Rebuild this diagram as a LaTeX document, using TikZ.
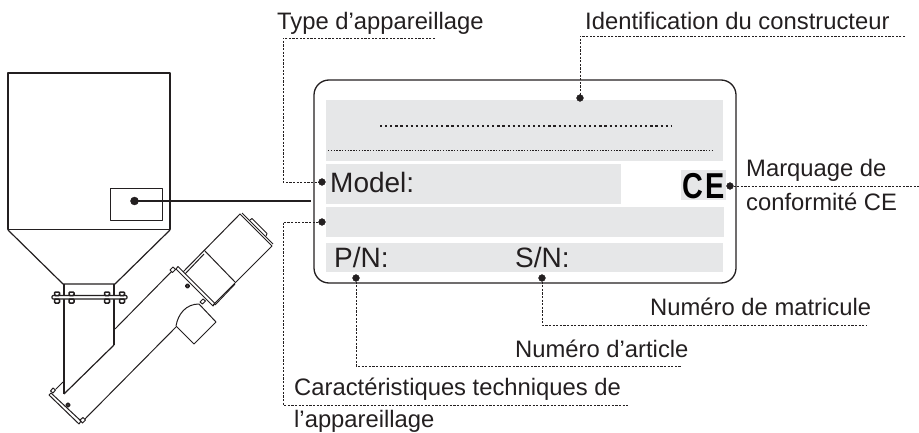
\documentclass[tikz,border=0pt]{standalone}
\usepackage{fontspec}
\setmainfont{Liberation Sans}
\definecolor{inkdark}{HTML}{231F20}
\definecolor{platefill}{HTML}{E6E7E8}
\tikzset{
	leader/.style={inkdark, line width=0.8pt, dash pattern=on 2.2pt off 1.4pt},
	machine/.style={inkdark, line width=1pt, line join=round},
	bolt/.style={inkdark, line width=1.5pt, fill=white, rounded corners=1pt},
	label/.style={anchor=base west, inner sep=0pt, text=inkdark, font=\fontsize{23.8}{28}\selectfont},
	platetext/.style={anchor=base west, inner sep=0pt, text=inkdark, font=\fontsize{28}{32}\selectfont},
	field/.style={fill=platefill, draw=none}
}
\begin{document}
\begin{tikzpicture}[x=1pt, y=-1pt]
	\useasboundingbox (0,0) rectangle (919,433);
	
	% hopper
	\draw[machine, line width=1.3pt] (8,73) -- (170,73) -- (170,229.5) -- (8,229.5) -- cycle;
	\draw[inkdark, line width=1.8pt] (8,73) -- (170,73);
	\draw[machine] (110,189) rectangle (162,220);
	\draw[machine, line width=1.2pt] (8,230) -- (63,284) -- (115,284) -- (170,230);
	
	% chute and flange
	\draw[machine, line width=1.6pt] (64,284) -- (64,394);
	\draw[machine, line width=1.2pt] (64,394) -- (114,345);
	\draw[machine, line width=1.6pt] (114,345) -- (114,284);
	\draw[machine, line width=1.2pt, fill=white, rounded corners=1pt] (52,295.5) rectangle (127,299);
	\draw[bolt] (54.5,292) rectangle (59.5,295.5);
	\draw[bolt] (69,292) rectangle (74,295.5);
	\draw[bolt] (104.5,292) rectangle (109.5,295.5);
	\draw[bolt] (119.5,292) rectangle (124.5,295.5);
	\draw[bolt] (54.5,299) rectangle (59.5,303);
	\draw[bolt] (69,299) rectangle (74,303);
	\draw[bolt] (104.5,299) rectangle (109.5,303);
	\draw[bolt] (119.5,299) rectangle (124.5,303);
	
	% tube
	\draw[machine] (115,329) -- (175,268);
	\draw[machine] (63,382) -- (56,389);
	\draw[machine] (82,422) -- (176,327);
	\draw[machine, fill=white] (49,395) -- (51,393) -- (81,421) -- (79,424) -- cycle;
	\draw[machine, fill=white] (176,269) -- (178,266.5) -- (215,303.5) -- (213,306) -- cycle;
	\draw[machine, fill=white] (50.5,391) -- (53,388) -- (55.5,390) -- (53,393) -- cycle;
	\draw[machine, fill=white] (80,420) -- (83,417.5) -- (85.5,420) -- (82.5,423) -- cycle;
	\draw[machine, fill=white] (170,270) -- (173,267) -- (175.5,269.5) -- (172.5,272.5) -- cycle;
	\draw[machine, fill=white] (200,302) -- (203,299) -- (205.5,301) -- (202.5,304) -- cycle;
	\draw[machine, line width=1.8pt, fill=white] (187.5,286) circle(1.8pt);
	\draw[machine, line width=1.8pt, fill=white] (68,405) circle(1.8pt);
	
	% motor
	\draw[machine] (183,272) -- (240,214) -- (272,246) -- (213,305);
	\draw[machine] (185,274) -- (204,254);
	\draw[machine] (204,250) -- (235,282);
	\draw[machine] (215,305) -- (235,284);
	\draw[machine] (242,213) -- (273,244);
	\draw[machine] (250,220) -- (252,218.5) -- (267,233.5) -- (266,236);
	\draw[machine] (176,326) .. controls (178,314) and (186,304) .. (199,304) -- (216,322) -- (194,344) -- cycle;
	
	% plate
	\draw[inkdark, line width=1.3pt, rounded corners=15pt] (314,80) rectangle (736,283);
	\path[field] (326,100) rectangle (723,161);
	\path[field] (326,164) rectangle (621,204);
	\path[field] (681,170) rectangle (726,200);
	\path[field] (326,207) rectangle (724,237);
	\path[field] (326,243) rectangle (723,272);
	\draw[inkdark, line width=2.2pt, dash pattern=on 2.2pt off 2.9pt] (380,126) -- (672,126);
	\draw[inkdark, line width=1pt, dash pattern=on 1.4pt off 1.4pt] (328,151) -- (713,151);
	
	% plate texts
	\node[platetext] (modelText) at (330,193) {Model:};
	\node[platetext] (partText) at (334,267) {P/N:};
	\node[platetext] (serialText) at (515,267) {S/N:};
	\node[anchor=base west, inner sep=0pt, text=black, font=\fontsize{36}{40}\bfseries\selectfont] (ceText) at (682,199) {\scalebox{.8}[1]{C}\kern2pt\scalebox{.8}[1]{E}};
	
	% labels
	\node[label] (typeLabel) at (277,30) {Type d’appareillage};
	\node[label] (makerLabel) at (585,30) {Identification du constructeur};
	\node[label] (markLabel) at (746,177) {Marquage de};
	\node[label] (markLabelb) at (746,211) {conformité CE};
	\node[label] (serialLabel) at (650,315) {Numéro de matricule};
	\node[label] (partLabel) at (515,357) {Numéro d’article};
	\node[label] (specLabel) at (294,395) {Caractéristiques techniques de};
	\node[label] (specLabelb) at (294,427) {l’appareillage};
	
	% callout points
	\coordinate (boxDot) at (134.5,201);
	\coordinate (boxEnd) at (311,201);
	\coordinate (typeDot) at (322,182);
	\coordinate (typeBend) at (283,38);
	\coordinate (typeEnd) at (435,38);
	\coordinate (makerDot) at (580,98);
	\coordinate (makerBend) at (580,36);
	\coordinate (makerEnd) at (905,36);
	\coordinate (markDot) at (730,186);
	\coordinate (markEnd) at (919,186);
	\coordinate (specDot) at (322,222);
	\coordinate (specBend) at (283,405);
	\coordinate (specEnd) at (629,405);
	\coordinate (partDot) at (356,278);
	\coordinate (partBend) at (356,366);
	\coordinate (partEnd) at (681,366);
	\coordinate (serialDot) at (542,278);
	\coordinate (serialBend) at (542,325);
	\coordinate (serialEnd) at (867,325);
	
	\draw[inkdark, line width=1.1pt] (boxDot) -- (boxEnd);
	\draw[leader] (typeEnd) -- (typeBend) |- (typeDot);
	\draw[leader] (makerEnd) -- (makerBend) -- (makerDot);
	\draw[leader] (markDot) -- (markEnd);
	\draw[leader] (specDot) -| (specBend) -- (specEnd);
	\draw[leader] (partDot) -- (partBend) -- (partEnd);
	\draw[leader] (serialDot) -- (serialBend) -- (serialEnd);
	
	\filldraw[inkdark] (boxDot) circle(4pt);
	\filldraw[inkdark] (typeDot) circle(3.4pt);
	\filldraw[inkdark] (makerDot) circle(3.4pt);
	\filldraw[inkdark] (markDot) circle(3.4pt);
	\filldraw[inkdark] (specDot) circle(3.4pt);
	\filldraw[inkdark] (partDot) circle(3.4pt);
	\filldraw[inkdark] (serialDot) circle(3.4pt);
\end{tikzpicture}
\end{document}
